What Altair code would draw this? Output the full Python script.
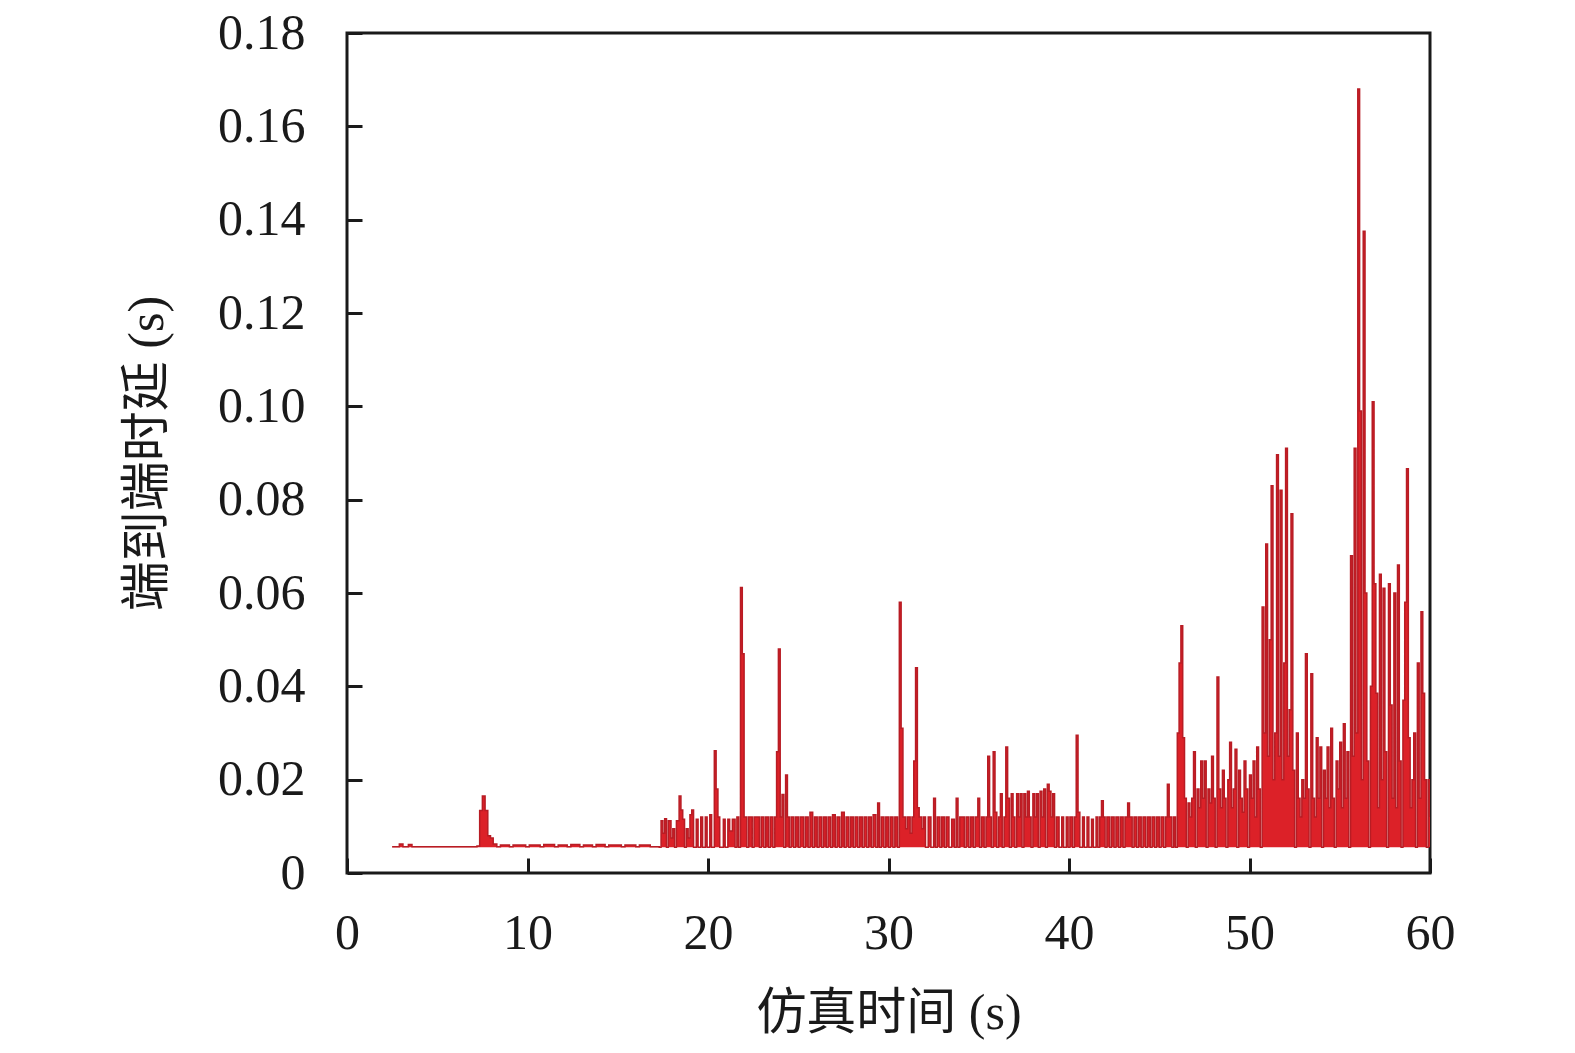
import altair as alt
import pandas as pd

# ---- data: (time s, delay s) ----
seg_early = [
    (2.5, 0.0056), (2.9, 0.0062), (3.1, 0.0056), (3.4, 0.0061), (3.6, 0.0056), (4.0, 0.0056),
    (4.2, 0.0056), (6.0, 0.0056), (6.2, 0.0056), (7.0, 0.0056), (7.2, 0.0058), (7.35, 0.0134),
    (7.5, 0.0165), (7.65, 0.0134), (7.8, 0.008), (7.95, 0.0075), (8.1, 0.0062), (8.3, 0.0056),
    (8.5, 0.006), (9.0, 0.0056), (9.2, 0.006), (9.9, 0.0056), (10.1, 0.006), (10.7, 0.0056),
    (10.9, 0.0061), (11.5, 0.0056), (11.7, 0.006), (12.2, 0.0056), (12.4, 0.0061), (12.9, 0.0056),
    (13.1, 0.006), (13.6, 0.0056), (13.8, 0.0061), (14.3, 0.0056), (14.5, 0.006), (15.2, 0.0056),
    (15.4, 0.006), (16.0, 0.0056), (16.2, 0.006), (16.8, 0.0056), (17.0, 0.0056),
]

seg_17_25 = [
    (17.3, 0.0055), (17.4, 0.0112), (17.5, 0.0085), (17.6, 0.0116), (17.7, 0.0055), (17.8, 0.0112),
    (17.95, 0.0075), (18.05, 0.0095), (18.15, 0.0055), (18.25, 0.0112), (18.4, 0.0165), (18.5, 0.0135),
    (18.6, 0.0115), (18.7, 0.0055), (18.8, 0.0095), (18.9, 0.0075), (19.0, 0.0125), (19.1, 0.0135),
    (19.2, 0.0055), (19.35, 0.0115), (19.45, 0.0055), (19.6, 0.012), (19.7, 0.0055), (19.85, 0.012),
    (19.95, 0.0055), (20.1, 0.0125), (20.2, 0.0055), (20.35, 0.0262), (20.45, 0.018), (20.55, 0.012),
    (20.65, 0.0055), (20.85, 0.0115), (20.95, 0.0055), (21.1, 0.0115), (21.2, 0.009), (21.35, 0.0115),
    (21.5, 0.0055), (21.6, 0.012), (21.7, 0.0055), (21.8, 0.0612), (21.9, 0.047), (22.0, 0.012),
    (22.15, 0.0055), (22.25, 0.012), (22.45, 0.0055), (22.55, 0.012), (22.85, 0.0055), (22.95, 0.012),
    (23.1, 0.0055), (23.2, 0.012), (23.35, 0.0055), (23.45, 0.012), (23.6, 0.0055), (23.7, 0.012),
    (23.8, 0.026), (23.9, 0.048), (24.0, 0.012), (24.1, 0.0168), (24.2, 0.0055), (24.3, 0.021),
    (24.4, 0.012), (24.5, 0.0055), (24.6, 0.012), (24.75, 0.0055), (24.85, 0.012),
]

seg_25_32 = [
    (25.0, 0.0055), (25.1, 0.012), (25.3, 0.0055), (25.4, 0.012), (25.55, 0.0055), (25.65, 0.013),
    (25.8, 0.0055), (25.9, 0.012), (26.05, 0.0055), (26.15, 0.012), (26.3, 0.0055), (26.4, 0.012),
    (26.55, 0.0055), (26.65, 0.012), (26.8, 0.0055), (26.9, 0.0125), (27.05, 0.0055), (27.15, 0.012),
    (27.3, 0.0055), (27.4, 0.013), (27.55, 0.0055), (27.65, 0.012), (27.8, 0.0055), (27.9, 0.012),
    (28.05, 0.0055), (28.15, 0.012), (28.3, 0.0055), (28.4, 0.012), (28.55, 0.0055), (28.65, 0.012),
    (28.8, 0.0055), (28.9, 0.012), (29.05, 0.0055), (29.15, 0.0125), (29.3, 0.0055), (29.4, 0.015),
    (29.5, 0.0055), (29.6, 0.012), (29.75, 0.0055), (29.85, 0.012), (30.0, 0.0055), (30.1, 0.012),
    (30.25, 0.0055), (30.35, 0.012), (30.5, 0.0055), (30.6, 0.058), (30.7, 0.031), (30.8, 0.012),
    (30.95, 0.0095), (31.05, 0.012), (31.2, 0.0085), (31.3, 0.012), (31.4, 0.024), (31.5, 0.044),
    (31.6, 0.014), (31.7, 0.012), (31.85, 0.0095), (31.95, 0.012),
]

seg_32_40 = [
    (32.05, 0.0055), (32.2, 0.012), (32.35, 0.0055), (32.5, 0.016), (32.6, 0.0055), (32.7, 0.012),
    (32.85, 0.0055), (32.95, 0.012), (33.1, 0.0055), (33.2, 0.012), (33.35, 0.0055), (33.5, 0.0115),
    (33.65, 0.0055), (33.75, 0.016), (33.85, 0.0055), (33.95, 0.012), (34.2, 0.0055), (34.3, 0.012),
    (34.45, 0.0055), (34.55, 0.012), (34.7, 0.0055), (34.8, 0.012), (34.95, 0.016), (35.05, 0.0055),
    (35.15, 0.012), (35.3, 0.0055), (35.4, 0.012), (35.5, 0.025), (35.6, 0.012), (35.7, 0.0055),
    (35.8, 0.026), (35.9, 0.013), (36.0, 0.0055), (36.1, 0.012), (36.2, 0.017), (36.3, 0.0055),
    (36.4, 0.012), (36.5, 0.027), (36.6, 0.016), (36.7, 0.0055), (36.8, 0.017), (36.9, 0.012),
    (37.0, 0.0055), (37.1, 0.017), (37.2, 0.012), (37.3, 0.017), (37.4, 0.0055), (37.5, 0.017),
    (37.6, 0.012), (37.7, 0.0175), (37.8, 0.012), (37.9, 0.0055), (38.0, 0.017), (38.1, 0.012),
    (38.2, 0.017), (38.3, 0.0055), (38.4, 0.0175), (38.5, 0.012), (38.6, 0.018), (38.7, 0.0055),
    (38.8, 0.019), (38.9, 0.0175), (39.0, 0.012), (39.1, 0.017), (39.2, 0.0055), (39.3, 0.012),
    (39.45, 0.0055), (39.6, 0.012), (39.7, 0.0055), (39.85, 0.012), (39.95, 0.0055),
]

seg_40_48 = [
    (40.05, 0.012), (40.2, 0.0055), (40.3, 0.012), (40.4, 0.0295), (40.5, 0.013), (40.6, 0.0055),
    (40.75, 0.012), (40.85, 0.0055), (41.0, 0.012), (41.1, 0.0055), (41.25, 0.0115), (41.35, 0.0055),
    (41.5, 0.012), (41.6, 0.0055), (41.7, 0.012), (41.8, 0.0155), (41.9, 0.012), (42.0, 0.0055),
    (42.1, 0.012), (42.25, 0.0055), (42.35, 0.012), (42.5, 0.0055), (42.6, 0.012), (42.75, 0.0055),
    (42.85, 0.012), (43.0, 0.0055), (43.1, 0.012), (43.25, 0.015), (43.35, 0.012), (43.5, 0.0055),
    (43.6, 0.012), (43.75, 0.0055), (43.85, 0.012), (44.0, 0.0055), (44.1, 0.012), (44.25, 0.0055),
    (44.35, 0.012), (44.5, 0.0055), (44.6, 0.012), (44.75, 0.0055), (44.85, 0.012), (45.0, 0.0055),
    (45.1, 0.012), (45.25, 0.0055), (45.35, 0.012), (45.45, 0.019), (45.55, 0.012), (45.7, 0.0055),
    (45.8, 0.012), (45.9, 0.0055), (46.0, 0.03), (46.1, 0.045), (46.2, 0.053), (46.3, 0.029),
    (46.4, 0.016), (46.5, 0.0055), (46.6, 0.015), (46.7, 0.012), (46.8, 0.016), (46.9, 0.026),
    (47.0, 0.0055), (47.1, 0.018), (47.2, 0.014), (47.3, 0.024), (47.4, 0.016), (47.5, 0.024),
    (47.6, 0.0055), (47.7, 0.018), (47.8, 0.015), (47.9, 0.025),
]

seg_48_54 = [
    (48.0, 0.016), (48.1, 0.0055), (48.2, 0.042), (48.3, 0.018), (48.4, 0.014), (48.5, 0.022),
    (48.6, 0.016), (48.7, 0.0055), (48.8, 0.02), (48.9, 0.028), (49.0, 0.014), (49.1, 0.018),
    (49.2, 0.0265), (49.3, 0.0055), (49.4, 0.022), (49.5, 0.016), (49.6, 0.013), (49.7, 0.024),
    (49.8, 0.018), (49.9, 0.0055), (50.0, 0.021), (50.1, 0.016), (50.2, 0.024), (50.3, 0.012),
    (50.4, 0.027), (50.5, 0.018), (50.6, 0.0055), (50.7, 0.057), (50.8, 0.03), (50.9, 0.0705),
    (51.0, 0.025), (51.1, 0.05), (51.2, 0.083), (51.3, 0.02), (51.4, 0.03), (51.5, 0.0896),
    (51.6, 0.025), (51.7, 0.082), (51.8, 0.02), (51.9, 0.045), (52.0, 0.091), (52.1, 0.025),
    (52.2, 0.035), (52.3, 0.077), (52.4, 0.022), (52.5, 0.0055), (52.6, 0.03), (52.7, 0.016),
    (52.8, 0.012), (52.9, 0.02), (53.0, 0.016), (53.1, 0.047), (53.2, 0.018), (53.3, 0.0055),
    (53.4, 0.0427), (53.5, 0.016), (53.6, 0.012), (53.7, 0.029), (53.8, 0.016), (53.9, 0.027),
]

seg_54_60 = [
    (54.0, 0.0055), (54.1, 0.022), (54.2, 0.016), (54.3, 0.027), (54.4, 0.014), (54.5, 0.031),
    (54.6, 0.016), (54.7, 0.0055), (54.8, 0.024), (54.9, 0.018), (55.0, 0.028), (55.1, 0.014),
    (55.2, 0.032), (55.3, 0.016), (55.4, 0.026), (55.5, 0.0055), (55.6, 0.068), (55.7, 0.025),
    (55.8, 0.091), (55.9, 0.03), (56.0, 0.168), (56.1, 0.099), (56.2, 0.02), (56.3, 0.1375),
    (56.4, 0.06), (56.5, 0.024), (56.6, 0.0055), (56.7, 0.04), (56.8, 0.101), (56.9, 0.062),
    (57.0, 0.0385), (57.1, 0.014), (57.2, 0.064), (57.3, 0.02), (57.4, 0.061), (57.5, 0.026),
    (57.6, 0.0055), (57.7, 0.062), (57.8, 0.036), (57.9, 0.016), (58.0, 0.06), (58.1, 0.014),
    (58.2, 0.066), (58.3, 0.024), (58.4, 0.0055), (58.5, 0.037), (58.6, 0.058), (58.7, 0.0866),
    (58.8, 0.029), (58.9, 0.014), (59.0, 0.02), (59.1, 0.03), (59.2, 0.0055), (59.3, 0.045),
    (59.4, 0.016), (59.5, 0.056), (59.6, 0.0385), (59.7, 0.02), (59.8, 0.0055), (59.9, 0.02),
    (60.0, 0.012),
]

BASE_DELAY = 0.0055
x_ticks = [0, 10, 20, 30, 40, 50, 60]
y_ticks = [0, 0.02, 0.04, 0.06, 0.08, 0.10, 0.12, 0.14, 0.16, 0.18]

pairs = seg_early + seg_17_25 + seg_25_32 + seg_32_40 + seg_40_48 + seg_48_54 + seg_54_60
df = pd.DataFrame({"t": [p[0] for p in pairs], "d": [p[1] for p in pairs]})

SERIF = "Liberation Serif, Noto Sans CJK SC"
INK = "#1a1a1a"

x_axis = alt.Axis(
    values=x_ticks, format="d", title="仿真时间 (s)", offset=-15, tickSize=15, tickWidth=3,
    tickColor=INK, domain=False, grid=False, labelFont=SERIF, labelFontSize=50, labelColor=INK,
    labelPadding=35, labelFlush=False, labelOverlap=False, titleFont=SERIF, titleFontSize=50,
    titleFontWeight="normal", titleColor=INK, titlePadding=30,
)
y_axis = alt.Axis(
    values=y_ticks, title="端到端时延 (s)", offset=-15, tickSize=15, tickWidth=3, tickColor=INK,
    domain=False, grid=False, labelFont=SERIF, labelFontSize=50, labelColor=INK, labelPadding=42,
    labelFlush=False, labelOverlap=False,
    labelExpr="datum.value == 0 ? '0' : format(datum.value, '.2f')",
    titleFont=SERIF, titleFontSize=50, titleFontWeight="normal", titleColor=INK, titlePadding=45,
)

base = alt.Chart(df).encode(
    x=alt.X("t:Q", scale=alt.Scale(domain=[0, 60], nice=False, zero=False), axis=x_axis),
    y=alt.Y("d:Q", scale=alt.Scale(domain=[0, 0.18], nice=False), axis=y_axis),
)

area = base.mark_area(interpolate="step-after", color="#dc2128", opacity=1, clip=True).encode(
    y2=alt.datum(BASE_DELAY)
)
line = base.mark_line(interpolate="step-after", color="#b81c24", strokeWidth=1.5, clip=True)

chart = (
    alt.layer(area, line)
    .properties(
        width=1083,
        height=840,
        autosize=alt.AutoSizeParams(type="none"),
        padding={"left": 339, "top": 25, "right": 100, "bottom": 174},
        background="white",
    )
    .configure_view(stroke=INK, strokeWidth=3)
)

chart.save("out.html", embed_options={"renderer": "svg", "actions": False})
